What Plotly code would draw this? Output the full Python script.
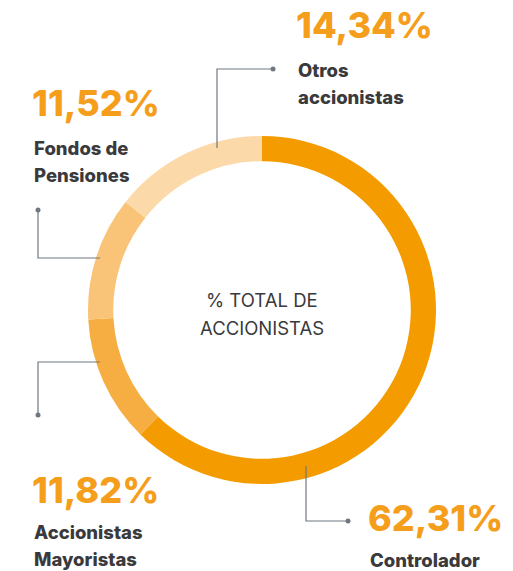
import plotly.graph_objects as go

categories = ["Controlador", "Accionistas<br>Mayoristas", "Fondos de<br>Pensiones", "Otros<br>accionistas"]
values = [62.31, 11.82, 11.52, 14.34]
colors = ["#F49B00", "#F6AE42", "#F9C478", "#FCD9A8"]
center_text = ["% TOTAL DE", "ACCIONISTAS"]

W, H = 513, 571
def px(x):
    return x / W
def py(y):
    return 1 - y / H

cx, cy, R = 262, 310, 174
FONT = "Inter"
LINE_GAP = 27

fig = go.Figure(go.Pie(
    labels=categories,
    values=values,
    sort=False,
    direction="clockwise",
    rotation=0,
    hole=0.855,
    marker=dict(colors=colors, line=dict(width=0)),
    textinfo="none",
    hoverinfo="label+percent",
    showlegend=False,
    domain=dict(x=[px(cx - R), px(cx + R)], y=[py(cy + R), py(cy - R)]),
))

label_pos = {
    0: dict(pct=(366, 518), name=(368, 560)),
    1: dict(pct=(30, 490), name=(32, 532)),
    2: dict(pct=(30, 103), name=(32, 148)),
    3: dict(pct=(294, 25), name=(296, 70)),
}

annotations = []
for i, (cat, v) in enumerate(zip(categories, values)):
    p = label_pos[i]
    annotations.append(dict(
        x=px(p["pct"][0]), y=py(p["pct"][1]), xref="paper", yref="paper",
        text=f"{v:.2f}%".replace(".", ","), showarrow=False,
        xanchor="left", yanchor="middle",
        font=dict(family=FONT, size=36, color="#F59E1C", weight=800),
    ))
    for j, line in enumerate(cat.split("<br>")):
        annotations.append(dict(
            x=px(p["name"][0]), y=py(p["name"][1] + j * LINE_GAP), xref="paper", yref="paper",
            text=line, showarrow=False, align="left",
            xanchor="left", yanchor="middle",
            font=dict(family=FONT, size=18.5, color="#3A3A3C", weight=800),
        ))

for j, line in enumerate(center_text):
    annotations.append(dict(
        x=px(cx), y=py(300 + j * 28), xref="paper", yref="paper",
        text=line, showarrow=False, align="center",
        xanchor="center", yanchor="middle",
        font=dict(family=FONT, size=18.5, color="#3A3A3C"),
    ))

line_col = "#6F7882"
connectors = [
    [(306, 466), (306, 521), (348, 521)],
    [(100, 362), (38, 362), (38, 415)],
    [(100, 258), (38, 258), (38, 210)],
    [(217, 148), (217, 69), (273, 69)],
]
shapes = []
for pts in connectors:
    path = "M " + " L ".join(f"{px(x)},{py(y)}" for x, y in pts)
    shapes.append(dict(type="path", path=path, xref="paper", yref="paper",
                       line=dict(color=line_col, width=1.2)))
    ex, ey = pts[-1]
    shapes.append(dict(type="circle", xref="paper", yref="paper",
                       x0=px(ex - 2.5), x1=px(ex + 2.5), y0=py(ey + 2.5), y1=py(ey - 2.5),
                       fillcolor=line_col, line=dict(width=0)))

fig.update_layout(
    width=W, height=H,
    margin=dict(l=0, r=0, t=0, b=0),
    paper_bgcolor="white", plot_bgcolor="white",
    annotations=annotations, shapes=shapes,
)

fig.write_html("out.html", config={"displayModeBar": False},
               post_script="document.body.style.margin='0';document.body.style.overflow='hidden';")
